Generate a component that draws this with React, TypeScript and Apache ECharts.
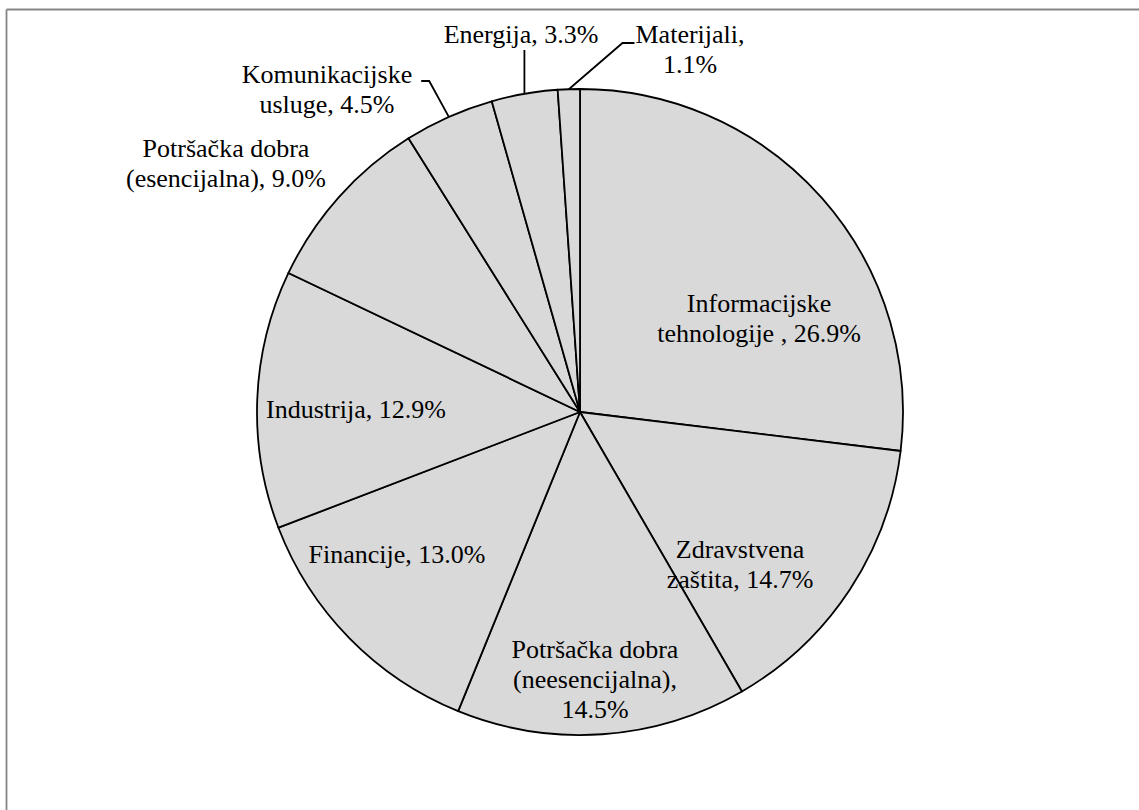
import React, { useEffect, useRef } from 'react';
import * as echarts from 'echarts';

// ---- data ----
const categories = [
  'Informacijske tehnologije ',
  'Zdravstvena zaštita',
  'Potršačka dobra (neesencijalna)',
  'Financije',
  'Industrija',
  'Potršačka dobra (esencijalna)',
  'Komunikacijske usluge',
  'Energija',
  'Materijali',
];
const shares = [26.9, 14.7, 14.5, 13.0, 12.9, 9.0, 4.5, 3.3, 1.1];
// word indices after which the label wraps
const labelBreaks = [[0], [0], [1, 2], [], [], [1], [0], [], [0]];

// ---- layout ----
const CX = 580;
const CY = 412;
const R = 323;
const outsideIdx = [5, 6, 7, 8];
const leaderIdx = [6, 7, 8];
const labelOffsets = [
  [179, -94],
  [160, 152],
  [15, 267],
  [-183, 142],
  [-224, -3],
  [-354, -249],
  [-253, -323],
  [-59, -378],
  [110, -363],
];

const total = shares.reduce((a, b) => a + b, 0);
function midAngle(i: number) {
  let cum = 0;
  for (let k = 0; k < i; k++) cum += shares[k];
  return ((cum + shares[i] / 2) / total) * Math.PI * 2;
}

function labelText(i: number) {
  const words = `${categories[i]}, ${shares[i].toFixed(1)}%`.split(' ');
  return words
    .map((w, k) => (k < words.length - 1 ? w + (labelBreaks[i].includes(k) ? '\n' : ' ') : w))
    .join('');
}

export default function App() {
  const ref = useRef<HTMLDivElement>(null);
  useEffect(() => {
    if (!ref.current) return;
    const chart = echarts.init(ref.current, undefined, { renderer: 'svg' });
    const data = categories.map((name, i) => ({
      name,
      value: shares[i],
      label: { position: outsideIdx.includes(i) ? 'outside' : 'inside' },
      labelLine: { show: leaderIdx.includes(i) },
    }));
    chart.setOption({
      animation: false,
      backgroundColor: '#ffffff',
      graphic: [
        {
          type: 'line',
          shape: { x1: 6.5, y1: 9.5, x2: 1139, y2: 9.5 },
          style: { stroke: '#858585', lineWidth: 1.8 },
        },
        {
          type: 'line',
          shape: { x1: 6.5, y1: 9.5, x2: 6.5, y2: 810 },
          style: { stroke: '#858585', lineWidth: 1.8 },
        },
      ],
      series: [
        {
          type: 'pie',
          center: [CX, CY],
          radius: [0, R],
          startAngle: 90,
          clockwise: true,
          avoidLabelOverlap: false,
          emphasis: { disabled: true },
          itemStyle: { color: '#d9d9d9', borderColor: '#000000', borderWidth: 1.8 },
          label: {
            show: true,
            color: '#000000',
            fontFamily: 'Liberation Serif',
            fontSize: 26,
            lineHeight: 30,
            align: 'center',
            formatter: (p: any) => labelText(p.dataIndex),
          },
          labelLine: { show: false, lineStyle: { color: '#000000', width: 1.8 } },
          labelLayout: (p: any) => {
            const i = p.dataIndex;
            const [dx, dy] = labelOffsets[i];
            const x = CX + dx;
            const y = CY + dy;
            const w = p.labelRect.width;
            const h = p.labelRect.height;
            const out: any = { x, y, align: 'center', verticalAlign: 'middle', hideOverlap: false };
            if (leaderIdx.includes(i)) {
              const a = midAngle(i);
              const p0 = [CX + R * Math.sin(a), CY - R * Math.cos(a)];
              if (i === 6) {
                const ey = y - 8;
                const ex = x + w / 2 + 9;
                out.labelLinePoints = [p0, [ex + 8, ey], [ex, ey]];
              } else if (i === 7) {
                const ey = y + h / 2 + 1;
                out.labelLinePoints = [p0, [p0[0], ey], [p0[0], ey]];
              } else {
                const ey = y - 6;
                const ex = x - w / 2 - 1;
                out.labelLinePoints = [p0, [ex - 12, ey], [ex, ey]];
              }
            }
            return out;
          },
          data,
        },
      ],
    });
    return () => chart.dispose();
  }, []);
  return (
    <div
      ref={ref}
      style={{ position: 'absolute', left: 0, top: 0, width: 1139, height: 810 }}
    />
  );
}
